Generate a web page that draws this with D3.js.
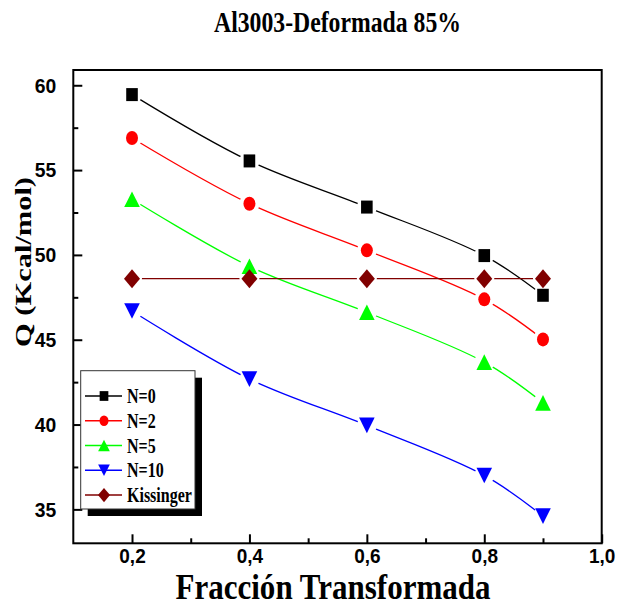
<!DOCTYPE html>
<html>
<head>
<meta charset="utf-8">
<script src="https://cdn.jsdelivr.net/npm/d3@7/dist/d3.min.js"></script>
<style>
  html, body { margin: 0; padding: 0; background: #fff; }
  svg { display: block; }
</style>
</head>
<body>
<svg id="chart" width="619" height="608"></svg>
<script>
// ---------- data ----------
const categories = [0.2, 0.4, 0.6, 0.8, 0.9];
const seriesN0  = [59.45, 55.54, 52.82, 49.96, 47.62];
const seriesN2  = [56.89, 53.02, 50.27, 47.38, 45.02];
const seriesN5  = [53.28, 49.33, 46.62, 43.68, 41.28];
const seriesN10 = [46.69, 42.68, 39.95, 37.00, 34.60];
const seriesKissinger = [48.6, 48.6, 48.6, 48.6, 48.6];
const seriesNames = ["N=0", "N=2", "N=5", "N=10", "Kissinger"];
const xTickValues = [0.2, 0.4, 0.6, 0.8, 1.0];
const xTickLabels = ["0,2", "0,4", "0,6", "0,8", "1,0"];
const xMinorTicks = [0.3, 0.5, 0.7, 0.9];
const yTickValues = [35, 40, 45, 50, 55, 60];
const yMinorTicks = [37.5, 42.5, 47.5, 52.5, 57.5];
const titleText = "Al3003-Deformada 85%";
const xTitleText = "Fracción Transformada";
const yTitleText = "Q (Kcal/mol)";

// ---------- layout ----------
const svg = d3.select("#chart");
const L = 73.3, R = 601.7, T = 70, B = 543.3;
const x = d3.scaleLinear().domain([0.1, 1.0]).range([L, R]);
const y = d3.scaleLinear().domain([33, 60.9]).range([B, T]);

const serif = "'Liberation Serif', 'Times New Roman', serif";
const sans = "'Liberation Sans', Arial, sans-serif";

const styles = [
  {color: "#000000", shape: "square"},
  {color: "#ff0000", shape: "circle"},
  {color: "#00ff00", shape: "triUp"},
  {color: "#0000ff", shape: "triDown"},
  {color: "#800000", shape: "diamond"}
];
const allSeries = [seriesN0, seriesN2, seriesN5, seriesN10, seriesKissinger];

function markerPath(shape, s) {
  switch (shape) {
    case "square": { const w = 5.8*s, h = 6.5*s; return `M${-w},${-h}H${w}V${h}H${-w}Z`; }
    case "circle": { const rx = 6*s, ry = 7*s;
      return `M${-rx},0A${rx},${ry} 0 1,0 ${rx},0A${rx},${ry} 0 1,0 ${-rx},0Z`; }
    case "triUp": { const w = 7.8*s, h = 7.8*s; return `M0,${-h}L${w},${h}L${-w},${h}Z`; }
    case "triDown": { const w = 7.8*s, h = 7.8*s; return `M0,${h}L${w},${-h}L${-w},${-h}Z`; }
    case "diamond": { const w = 8*s, h = 9.5*s; return `M0,${-h}L${w},0L0,${h}L${-w},0Z`; }
  }
}

function condense(sel, f) {
  sel.each(function() {
    const len = this.getComputedTextLength();
    this.setAttribute("textLength", len * f);
    this.setAttribute("lengthAdjust", "spacingAndGlyphs");
  });
}

// ---------- series lines with gaps (masks) ----------
const defs = svg.append("defs");
const line = d3.line().x((d, i) => x(categories[i])).y(d => y(d)).curve(d3.curveCatmullRom.alpha(0.5));

allSeries.forEach((vals, si) => {
  const m = defs.append("mask").attr("id", "gap" + si).attr("maskUnits", "userSpaceOnUse")
    .attr("x", 0).attr("y", 0).attr("width", 619).attr("height", 608);
  m.append("rect").attr("width", 619).attr("height", 608).attr("fill", "#fff");
  m.selectAll("circle").data(vals).join("circle")
    .attr("cx", (d, i) => x(categories[i])).attr("cy", d => y(d)).attr("r", 10).attr("fill", "#000");
});

const plot = svg.append("g");
allSeries.forEach((vals, si) => {
  plot.append("path").datum(vals)
    .attr("d", line)
    .attr("fill", "none")
    .attr("stroke", styles[si].color)
    .attr("stroke-width", 1.3)
    .attr("mask", `url(#gap${si})`);
});
allSeries.forEach((vals, si) => {
  plot.selectAll(null).data(vals).join("path")
    .attr("transform", (d, i) => `translate(${x(categories[i])},${y(d)})`)
    .attr("d", markerPath(styles[si].shape, 1))
    .attr("fill", styles[si].color);
});

// ---------- axes / frame ----------
const axes = svg.append("g");
const xAxis = d3.axisBottom(x).tickValues(xTickValues).tickSizeInner(-9).tickSizeOuter(0)
  .tickFormat((d, i) => xTickLabels[i]).tickPadding(10);
const gx = axes.append("g").attr("transform", `translate(0,${B})`).call(xAxis);
gx.select(".domain").remove();
gx.selectAll(".tick line").attr("stroke", "#000").attr("stroke-width", 2);
gx.selectAll(".tick text").attr("font-family", sans).attr("font-weight", "bold")
  .attr("font-size", 20).attr("fill", "#000").attr("dy", "0.5em");
axes.append("g").attr("transform", `translate(0,${B})`)
  .call(d3.axisBottom(x).tickValues(xMinorTicks).tickSizeInner(-5).tickSizeOuter(0).tickFormat(""))
  .call(g => g.select(".domain").remove())
  .selectAll(".tick line").attr("stroke", "#000").attr("stroke-width", 2);

const yAxis = d3.axisLeft(y).tickValues(yTickValues).tickSizeInner(-9).tickSizeOuter(0).tickPadding(17);
const gy = axes.append("g").attr("transform", `translate(${L},0)`).call(yAxis);
gy.select(".domain").remove();
gy.selectAll(".tick line").attr("stroke", "#000").attr("stroke-width", 2);
gy.selectAll(".tick text").attr("font-family", sans).attr("font-weight", "bold")
  .attr("font-size", 21).attr("fill", "#000");
axes.append("g").attr("transform", `translate(${L},0)`)
  .call(d3.axisLeft(y).tickValues(yMinorTicks).tickSizeInner(-5).tickSizeOuter(0).tickFormat(""))
  .call(g => g.select(".domain").remove())
  .selectAll(".tick line").attr("stroke", "#000").attr("stroke-width", 2);

condense(gx.selectAll(".tick text"), 0.95);
condense(gy.selectAll(".tick text"), 0.92);

axes.append("rect").attr("x", L).attr("y", T).attr("width", R - L).attr("height", B - T)
  .attr("fill", "none").attr("stroke", "#000").attr("stroke-width", 2);

// ---------- titles ----------
svg.append("text").attr("x", (L + R) / 2).attr("y", 32).attr("text-anchor", "middle")
  .attr("font-family", serif).attr("font-weight", "bold").attr("font-size", 30)
  .attr("textLength", 247).attr("lengthAdjust", "spacingAndGlyphs").text(titleText);

svg.append("text").attr("x", 333).attr("y", 599).attr("text-anchor", "middle")
  .attr("font-family", serif).attr("font-weight", "bold").attr("font-size", 35)
  .attr("textLength", 315).attr("lengthAdjust", "spacingAndGlyphs").text(xTitleText);

svg.append("text").attr("transform", "translate(31,262) rotate(-90)").attr("text-anchor", "middle")
  .attr("font-family", serif).attr("font-weight", "bold").attr("font-size", 24)
  .attr("textLength", 170).attr("lengthAdjust", "spacingAndGlyphs").text(yTitleText);

// ---------- legend ----------
const lg = svg.append("g");
const lx = 80.7, ly = 370.7, lw = 114.3, lh = 138.3;
lg.append("rect").attr("x", lx + 7).attr("y", ly + 7).attr("width", lw).attr("height", lh).attr("fill", "#000");
lg.append("rect").attr("x", lx).attr("y", ly).attr("width", lw).attr("height", lh)
  .attr("fill", "#fff").attr("stroke", "#333").attr("stroke-width", 1);
const rowY = d3.scaleLinear().domain([0, 4]).range([396, 495]);
seriesNames.forEach((name, i) => {
  const yy = rowY(i);
  lg.append("line").attr("x1", 85).attr("x2", 122).attr("y1", yy).attr("y2", yy)
    .attr("stroke", styles[i].color).attr("stroke-width", 1.3);
  lg.append("path").attr("transform", `translate(104,${yy})`)
    .attr("d", markerPath(styles[i].shape, 0.75)).attr("fill", styles[i].color);
  const t = lg.append("text").attr("x", 127).attr("y", yy + 7)
    .attr("font-family", serif).attr("font-weight", "bold").attr("font-size", 20)
    .attr("fill", "#000").text(name);
  condense(t, 0.8);
});
</script>
</body>
</html>
